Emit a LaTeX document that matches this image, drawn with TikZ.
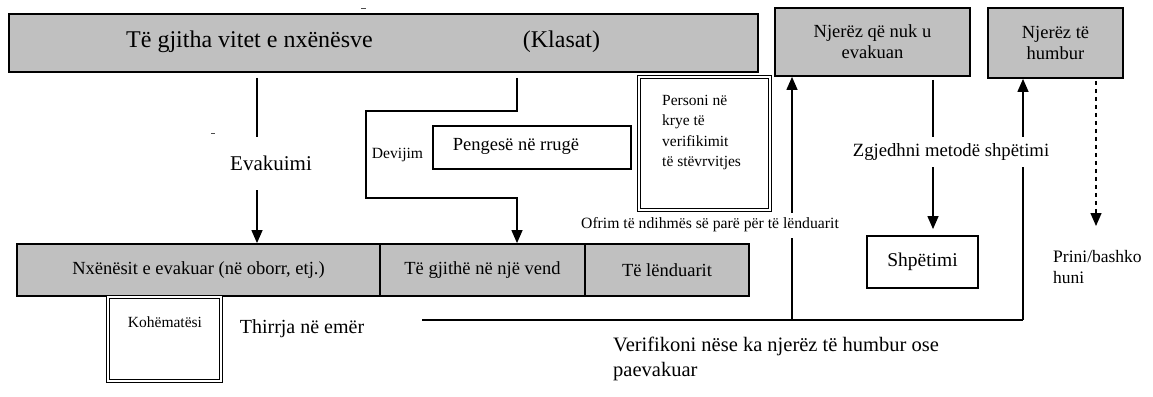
\documentclass[tikz,border=0pt]{standalone}
\usepackage{fontspec}
\setmainfont{Liberation Serif}
\usetikzlibrary{arrows.meta}
\definecolor{boxgray}{RGB}{192,192,192}
\newcommand{\fsz}[2]{\fontsize{#1pt}{#2pt}\selectfont}
\begin{document}
\begin{tikzpicture}[x=1pt,y=-1pt,
  graybox/.style={draw=black, line width=1.8pt, fill=boxgray, inner sep=0pt},
  whitebox/.style={draw=black, line width=1.5pt, fill=white, inner sep=0pt},
  dblbox/.style={draw=black, line width=1pt, double=white, double distance=2.5pt, inner sep=0pt},
  txt/.style={inner sep=0pt},
  lbl/.style={inner sep=0pt, fill=white},
  conn/.style={line width=1.3pt},
  arr/.style={conn, -{Triangle[width=11pt,length=13pt]}},
  dasharr/.style={arr, dash pattern=on 4pt off 4pt}
]
\useasboundingbox (0,0) rectangle (1153,396);
% top boxes
\node[graybox, minimum width=749pt, minimum height=58pt] (top) at (383.5,43) {};
\node[txt, font=\fsz{24}{28}] (t1) at (249.5,42) {Të gjitha vitet e nxënësve};
\node[txt, font=\fsz{24}{28}] (t2) at (561.5,42) {(Klasat)};
\node[graybox, minimum width=195pt, minimum height=68pt, align=center, font=\fsz{18.5}{21}] (nq) at (872.5,42) {Njerëz që nuk u\\evakuan};
\node[graybox, minimum width=135pt, minimum height=70pt, align=center, font=\fsz{18.5}{21}] (nh) at (1055.5,43) {Njerëz të\\humbur};
% middle
\node[whitebox, minimum width=198pt, minimum height=43pt] (peng) at (532,147.5) {};
\node[txt, font=\fsz{18.5}{21}] (pengt) at (516,146) {Pengesë në rrugë};
\node[dblbox, minimum width=131pt, minimum height=133pt] (pers) at (704.5,143.5) {};
\node[txt, anchor=north west, align=left, font=\fsz{15.5}{20.5}] (perst) at (662,95) {Personi në\\krye të\\verifikimit\\të stëvrvitjes};
\node[txt, font=\fsz{15.6}{18}] (dev) at (397.5,155) {Devijim};
% bottom row
\node[graybox, minimum width=363pt, minimum height=52pt, font=\fsz{18.5}{21}] (b1) at (198.5,270) {Nxënësit e evakuar (në oborr, etj.)};
\node[graybox, minimum width=205pt, minimum height=52pt, font=\fsz{18.5}{21}] (b2) at (482.5,270) {Të gjithë në një vend};
\node[graybox, minimum width=164pt, minimum height=52pt, font=\fsz{18.5}{21}] (b3) at (667,270) {Të lënduarit};
\node[dblbox, minimum width=113pt, minimum height=84pt] (koh) at (164.5,339) {};
\node[txt, font=\fsz{15.5}{18}] (koht) at (165,322) {Kohëmatësi};
\node[whitebox, line width=1.8pt, minimum width=111pt, minimum height=52pt, font=\fsz{19.5}{24}] (shp) at (922.5,262) {Shpëtimi};
\node[txt, anchor=north west, align=left, font=\fsz{17.5}{21}] (prini) at (1053,250) {Prini/bashko\\huni};
\node[txt, font=\fsz{20}{24}] (thir) at (302,329) {Thirrja në emër};
\node[txt, anchor=north west, align=left, font=\fsz{20.5}{25}] (verif) at (613,337) {Verifikoni nëse ka njerëz të humbur ose\\paevakuar};
% connectors
\coordinate (ax) at (257,0);
\coordinate (dx) at (517,0);
\coordinate (sx) at (933,0);
\coordinate (px) at (1096,0);
\coordinate (h0) at (422,320);
\coordinate (hj) at (792,320);
\coordinate (h1) at (1023,320);
\draw[arr, shorten <=5pt] (top.south -| ax) -- (b1.north -| ax);
\draw[arr, shorten <=5pt] (top.south -| dx) -- (517,111) -- (366,111) -- (366,198) -- (517,198) -- (b2.north -| dx);
\draw[conn] (h0) -- (h1);
\draw[arr] (hj) -- (hj |- nq.south);
\draw[arr] (h1) -- (h1 |- nh.south);
\draw[arr, shorten <=3pt, shorten >=6pt] (nq.south -| sx) -- (shp.north -| sx);
\draw[dasharr, shorten <=2pt, shorten >=24pt] (nh.south -| px) -- (prini.north -| px);
% labels over lines
\node[lbl, minimum height=53pt, font=\fsz{21}{25}] (evak) at (271,163.5) {Evakuimi};
\node[lbl, minimum height=25pt, font=\fsz{15.7}{18}] (ofr) at (710,225) {Ofrim të ndihmës së parë për të lënduarit};
\node[lbl, minimum height=30pt, font=\fsz{18.7}{22}] (zgj) at (951,152) {Zgjedhni metodë shpëtimi};
% small marks
\draw[line width=0.8pt, black!70] (361,8) -- (366,8);
\draw[line width=0.8pt, black!70] (211,133) -- (215,133);
\end{tikzpicture}
\end{document}
